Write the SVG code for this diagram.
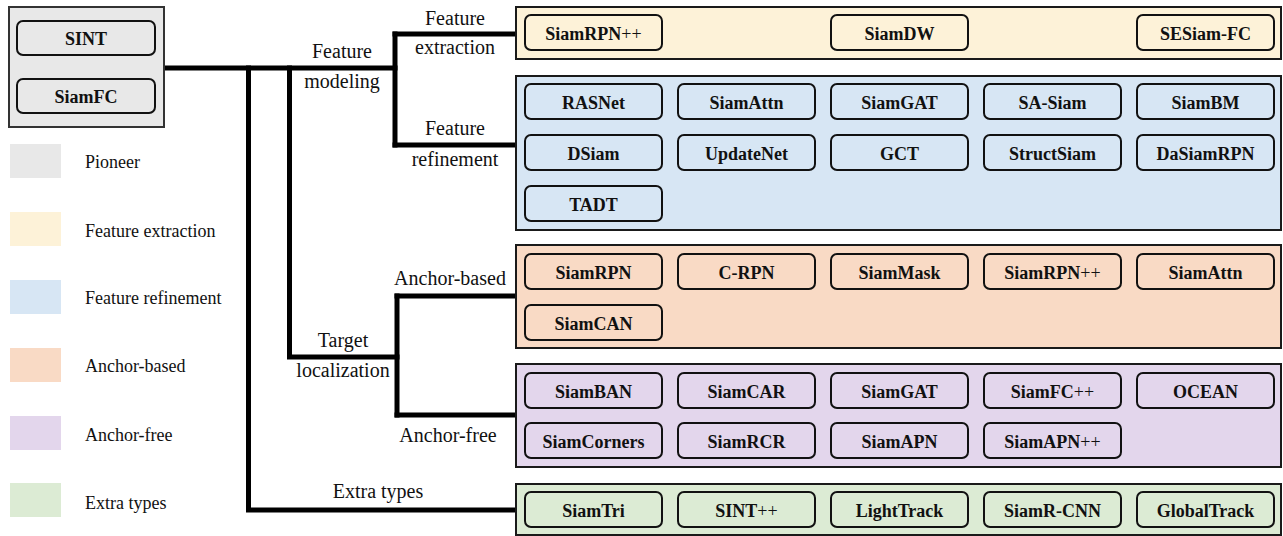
<svg xmlns="http://www.w3.org/2000/svg" width="1283" height="536" viewBox="0 0 1283 536">
<style>
  .panel { stroke: #1a1a1a; stroke-width: 2; }
  .node rect { stroke: #111; stroke-width: 2; rx: 6; ry: 6; }
  text { font-family: "Liberation Serif", Tinos, "Times New Roman", "DejaVu Serif", "Noto Serif", serif; fill: #111; }
  .node text { font-weight: bold; font-size: 18px; text-anchor: middle; }
  .pp { font-weight: normal; }
  .lbl { font-size: 20px; text-anchor: middle; }
  .leg { font-size: 18px; }
  .conn { fill: none; stroke: #000; stroke-width: 5; stroke-linecap: square; stroke-linejoin: miter; }
  .gray { fill: #e8e8e8; }
  .yel { fill: #fdf2d8; }
  .blu { fill: #d7e6f4; }
  .ora { fill: #f9dac5; }
  .pur { fill: #e3d6ec; }
  .grn { fill: #dcebd4; }
</style>

<!-- connectors -->
<g id="connectors" class="conn">
  <path d="M165,68 H395"/>
  <path d="M395,34 V145"/>
  <path d="M395,34 H516"/>
  <path d="M395,145 H516"/>
  <path d="M248.5,68 V510 H516"/>
  <path d="M289.5,68 V357 H397"/>
  <path d="M397,296 V415"/>
  <path d="M397,296 H516"/>
  <path d="M397,415 H516"/>
</g>

<!-- branch labels -->
<g id="labels">
  <text class="lbl" x="455" y="25">Feature</text>
  <text class="lbl" x="455" y="54">extraction</text>
  <text class="lbl" x="342" y="58">Feature</text>
  <text class="lbl" x="342" y="88">modeling</text>
  <text class="lbl" x="455" y="135">Feature</text>
  <text class="lbl" x="455" y="166">refinement</text>
  <text class="lbl" x="450" y="285">Anchor-based</text>
  <text class="lbl" x="343" y="347">Target</text>
  <text class="lbl" x="343" y="377">localization</text>
  <text class="lbl" x="448" y="442">Anchor-free</text>
  <text class="lbl" x="378" y="498">Extra types</text>
</g>

<!-- pioneer -->
<g id="pioneer">
  <rect class="gray" x="9" y="7" width="155" height="120" stroke="#333" stroke-width="2"/>
  <g class="node" id="n-sint"><rect class="gray" x="17" y="21" width="138" height="34"/><text x="86" y="45">SINT</text></g>
  <g class="node" id="n-siamfc"><rect class="gray" x="17" y="79" width="138" height="34"/><text x="86" y="103">SiamFC</text></g>
</g>

<!-- feature extraction -->
<g id="feature-extraction">
  <rect class="panel yel" x="516" y="7" width="765" height="52"/>
  <g class="node"><rect class="yel" x="525" y="15" width="137" height="35"/><text x="593.5" y="40">SiamRPN<tspan class="pp">++</tspan></text></g>
  <g class="node"><rect class="yel" x="831" y="15" width="137" height="35"/><text x="899.5" y="40">SiamDW</text></g>
  <g class="node"><rect class="yel" x="1137" y="15" width="137" height="35"/><text x="1205.5" y="40">SESiam-FC</text></g>
</g>

<!-- feature refinement -->
<g id="feature-refinement">
  <rect class="panel blu" x="516" y="76" width="765" height="154"/>
  <g class="node"><rect class="blu" x="525" y="84" width="137" height="35"/><text x="593.5" y="109">RASNet</text></g>
  <g class="node"><rect class="blu" x="678" y="84" width="137" height="35"/><text x="746.5" y="109">SiamAttn</text></g>
  <g class="node"><rect class="blu" x="831" y="84" width="137" height="35"/><text x="899.5" y="109">SiamGAT</text></g>
  <g class="node"><rect class="blu" x="984" y="84" width="137" height="35"/><text x="1052.5" y="109">SA-Siam</text></g>
  <g class="node"><rect class="blu" x="1137" y="84" width="137" height="35"/><text x="1205.5" y="109">SiamBM</text></g>
  <g class="node"><rect class="blu" x="525" y="135" width="137" height="35"/><text x="593.5" y="160">DSiam</text></g>
  <g class="node"><rect class="blu" x="678" y="135" width="137" height="35"/><text x="746.5" y="160">UpdateNet</text></g>
  <g class="node"><rect class="blu" x="831" y="135" width="137" height="35"/><text x="899.5" y="160">GCT</text></g>
  <g class="node"><rect class="blu" x="984" y="135" width="137" height="35"/><text x="1052.5" y="160">StructSiam</text></g>
  <g class="node"><rect class="blu" x="1137" y="135" width="137" height="35"/><text x="1205.5" y="160">DaSiamRPN</text></g>
  <g class="node"><rect class="blu" x="525" y="186" width="137" height="35"/><text x="593.5" y="211">TADT</text></g>
</g>

<!-- anchor-based -->
<g id="anchor-based">
  <rect class="panel ora" x="516" y="245" width="765" height="103"/>
  <g class="node"><rect class="ora" x="525" y="254" width="137" height="35"/><text x="593.5" y="279">SiamRPN</text></g>
  <g class="node"><rect class="ora" x="678" y="254" width="137" height="35"/><text x="746.5" y="279">C-RPN</text></g>
  <g class="node"><rect class="ora" x="831" y="254" width="137" height="35"/><text x="899.5" y="279">SiamMask</text></g>
  <g class="node"><rect class="ora" x="984" y="254" width="137" height="35"/><text x="1052.5" y="279">SiamRPN<tspan class="pp">++</tspan></text></g>
  <g class="node"><rect class="ora" x="1137" y="254" width="137" height="35"/><text x="1205.5" y="279">SiamAttn</text></g>
  <g class="node"><rect class="ora" x="525" y="305" width="137" height="35"/><text x="593.5" y="330">SiamCAN</text></g>
</g>

<!-- anchor-free -->
<g id="anchor-free">
  <rect class="panel pur" x="516" y="364" width="765" height="103" stroke="#555"/>
  <g class="node"><rect class="pur" x="525" y="373" width="137" height="35"/><text x="593.5" y="398">SiamBAN</text></g>
  <g class="node"><rect class="pur" x="678" y="373" width="137" height="35"/><text x="746.5" y="398">SiamCAR</text></g>
  <g class="node"><rect class="pur" x="831" y="373" width="137" height="35"/><text x="899.5" y="398">SiamGAT</text></g>
  <g class="node"><rect class="pur" x="984" y="373" width="137" height="35"/><text x="1052.5" y="398">SiamFC<tspan class="pp">++</tspan></text></g>
  <g class="node"><rect class="pur" x="1137" y="373" width="137" height="35"/><text x="1205.5" y="398">OCEAN</text></g>
  <g class="node"><rect class="pur" x="525" y="423" width="137" height="35"/><text x="593.5" y="448">SiamCorners</text></g>
  <g class="node"><rect class="pur" x="678" y="423" width="137" height="35"/><text x="746.5" y="448">SiamRCR</text></g>
  <g class="node"><rect class="pur" x="831" y="423" width="137" height="35"/><text x="899.5" y="448">SiamAPN</text></g>
  <g class="node"><rect class="pur" x="984" y="423" width="137" height="35"/><text x="1052.5" y="448">SiamAPN<tspan class="pp">++</tspan></text></g>
</g>

<!-- extra types -->
<g id="extra-types">
  <rect class="panel grn" x="516" y="484" width="765" height="51"/>
  <g class="node"><rect class="grn" x="525" y="492" width="137" height="35"/><text x="593.5" y="517">SiamTri</text></g>
  <g class="node"><rect class="grn" x="678" y="492" width="137" height="35"/><text x="746.5" y="517">SINT<tspan class="pp">++</tspan></text></g>
  <g class="node"><rect class="grn" x="831" y="492" width="137" height="35"/><text x="899.5" y="517">LightTrack</text></g>
  <g class="node"><rect class="grn" x="984" y="492" width="137" height="35"/><text x="1052.5" y="517">SiamR-CNN</text></g>
  <g class="node"><rect class="grn" x="1137" y="492" width="137" height="35"/><text x="1205.5" y="517">GlobalTrack</text></g>
</g>

<!-- legend -->
<g id="legend">
  <rect class="gray" x="10" y="144" width="51" height="34"/><text class="leg" x="85" y="168">Pioneer</text>
  <rect class="yel" x="10" y="212" width="51" height="34"/><text class="leg" x="85" y="237">Feature extraction</text>
  <rect class="blu" x="10" y="280" width="51" height="34"/><text class="leg" x="85" y="304">Feature refinement</text>
  <rect class="ora" x="10" y="348" width="51" height="34"/><text class="leg" x="85" y="372">Anchor-based</text>
  <rect class="pur" x="10" y="416" width="51" height="34"/><text class="leg" x="85" y="441">Anchor-free</text>
  <rect class="grn" x="10" y="483" width="51" height="34"/><text class="leg" x="85" y="509">Extra types</text>
</g>
</svg>
